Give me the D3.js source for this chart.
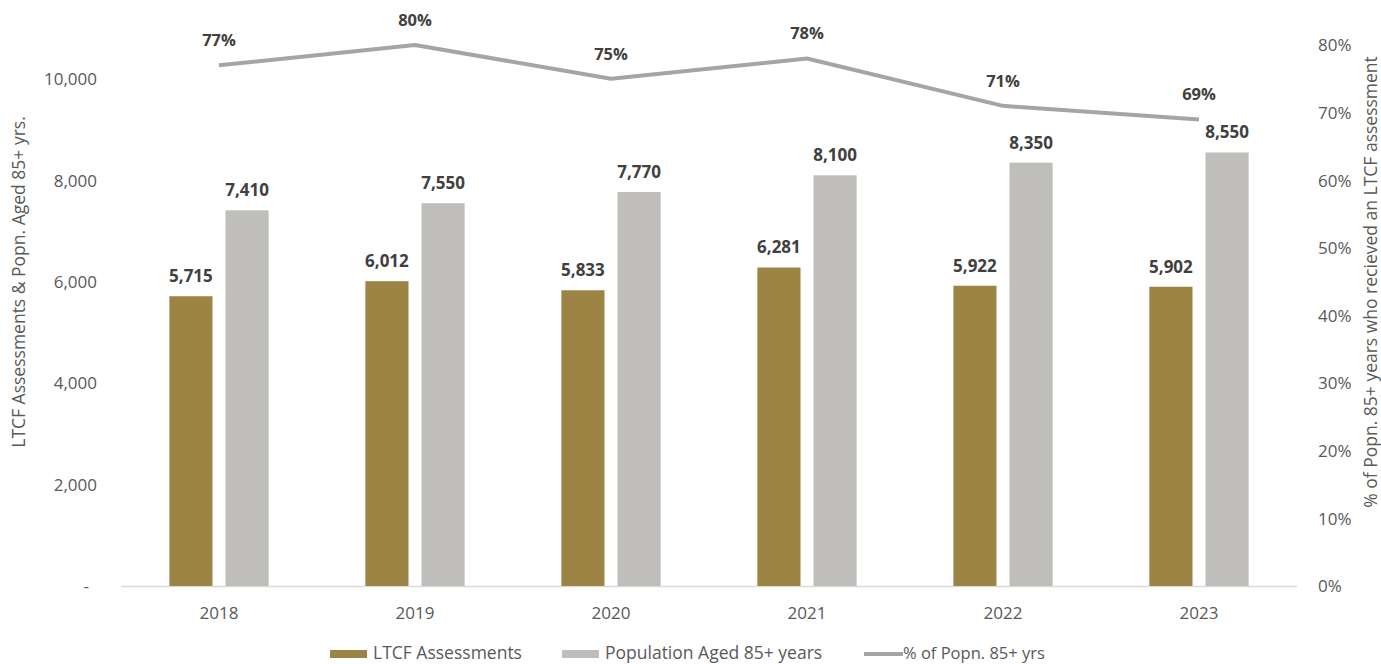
<!DOCTYPE html>
<html>
<head>
<meta charset="utf-8">
<script src="https://cdn.jsdelivr.net/npm/d3@7"></script>
<style>
  html, body { margin: 0; padding: 0; background: #fff; }
  svg { display: block; }
  text { font-family: "Open Sans", "Noto Sans", sans-serif; }
</style>
</head>
<body>
<svg id="chart" width="1381" height="664"></svg>
<script>
// Yearly figures
const years = ["2018", "2019", "2020", "2021", "2022", "2023"];
const assessments = [5715, 6012, 5833, 6281, 5922, 5902];
const population85 = [7410, 7550, 7770, 8100, 8350, 8550];
const pctAssessed = [77, 80, 75, 78, 71, 69];

const leftTicks = [0, 2000, 4000, 6000, 8000, 10000];
const rightTicks = [0, 10, 20, 30, 40, 50, 60, 70, 80];

const seriesNames = ["LTCF Assessments", "Population Aged 85+ years", "% of Popn. 85+ yrs"];
const leftTitle = "LTCF Assessments & Popn. Aged 85+ yrs.";
const rightTitle = "% of Popn. 85+ years who recieved an LTCF assessment";

const colBrown = "#9c8445";
const colGray = "#bfbeba";
const colLine = "#a5a5a5";
const colTick = "#595959";
const colLabel = "#404040";

const svg = d3.select("#chart");
const plot = { left: 121, right: 1297, top: 45, bottom: 586 };

const x = d3.scaleBand().domain(years).range([plot.left, plot.right]).padding(0);
const yL = d3.scaleLinear().domain([0, 10670]).range([plot.bottom, plot.top]);
const yR = d3.scaleLinear().domain([0, 80]).range([plot.bottom, plot.top]);

const bw = x.bandwidth() * 0.22;
const gap = 13;
const fmt = d3.format(",");

// baseline
svg.append("line")
  .attr("x1", plot.left).attr("x2", plot.right)
  .attr("y1", plot.bottom + 0.5).attr("y2", plot.bottom + 0.5)
  .attr("stroke", "#d9d9d9").attr("stroke-width", 1.5);

// left axis
const leftAxis = d3.axisLeft(yL).tickValues(leftTicks).tickSize(0).tickPadding(0)
  .tickFormat(d => d === 0 ? "-" : fmt(d));
const gL = svg.append("g").attr("transform", `translate(97,0)`).call(leftAxis);
gL.select(".domain").remove();
gL.selectAll("text").attr("fill", colTick).style("font-size", "17px")
  .attr("dy", "0.34em")
  .attr("dx", d => d === 0 ? -8 : 0);

// right axis
const rightAxis = d3.axisRight(yR).tickValues(rightTicks).tickSize(0).tickPadding(0)
  .tickFormat(d => d + "%");
const gR = svg.append("g").attr("transform", `translate(1318,0)`).call(rightAxis);
gR.select(".domain").remove();
gR.selectAll("text").attr("fill", colTick).style("font-size", "17px").attr("dy", "0.34em");

// x axis
const xAxis = d3.axisBottom(x).tickSize(0).tickPadding(0);
const gX = svg.append("g").attr("transform", `translate(0,${plot.bottom})`).call(xAxis);
gX.select(".domain").remove();
gX.selectAll("text").attr("fill", colTick).style("font-size", "17px").attr("y", 27).attr("dy", "0.34em");

// axis titles
svg.append("text")
  .attr("transform", `translate(25,282) rotate(-90)`)
  .attr("text-anchor", "middle").attr("fill", colTick).style("font-size", "17.5px")
  .text(leftTitle);
svg.append("text")
  .attr("transform", `translate(1377,282) rotate(-90)`)
  .attr("text-anchor", "middle").attr("fill", colTick).style("font-size", "17.5px")
  .text(rightTitle);

// bars
const g = svg.append("g");
years.forEach((yr, i) => {
  const cx = x(yr) + x.bandwidth() / 2;
  const bx1 = cx - gap / 2 - bw;
  const bx2 = cx + gap / 2;
  g.append("rect").attr("x", bx1).attr("width", bw)
    .attr("y", yL(assessments[i])).attr("height", yL(0) - yL(assessments[i]))
    .attr("fill", colBrown);
  g.append("rect").attr("x", bx2).attr("width", bw)
    .attr("y", yL(population85[i])).attr("height", yL(0) - yL(population85[i]))
    .attr("fill", colGray);
  g.append("text").attr("x", bx1 + bw / 2).attr("y", yL(assessments[i]) - 20)
    .attr("dy", "0.35em").attr("text-anchor", "middle")
    .attr("fill", colLabel).style("font-size", "17px").style("font-weight", "bold")
    .text(fmt(assessments[i]));
  g.append("text").attr("x", bx2 + bw / 2).attr("y", yL(population85[i]) - 20)
    .attr("dy", "0.35em").attr("text-anchor", "middle")
    .attr("fill", colLabel).style("font-size", "17px").style("font-weight", "bold")
    .text(fmt(population85[i]));
});

// percentage line
const line = d3.line()
  .x((d, i) => x(years[i]) + x.bandwidth() / 2)
  .y(d => yR(d));
svg.append("path").datum(pctAssessed)
  .attr("d", line).attr("fill", "none")
  .attr("stroke", colLine).attr("stroke-width", 4).attr("stroke-linejoin", "round");

svg.append("g").selectAll("text").data(pctAssessed).join("text")
  .attr("x", (d, i) => x(years[i]) + x.bandwidth() / 2)
  .attr("y", d => yR(d) - 25)
  .attr("dy", "0.35em").attr("text-anchor", "middle")
  .attr("fill", colLabel).style("font-size", "16.5px").style("font-weight", "bold")
  .text(d => d + "%");

// legend
const lg = svg.append("g").attr("transform", "translate(0,653)");
const legendItems = [
  { x: 330, type: "rect", color: colBrown, label: seriesNames[0] },
  { x: 562, type: "rect", color: colGray, label: seriesNames[1] },
  { x: 864, type: "line", color: colLine, label: seriesNames[2] }
];
legendItems.forEach(it => {
  if (it.type === "rect") {
    lg.append("rect").attr("x", it.x).attr("y", -3).attr("width", 37).attr("height", 8).attr("fill", it.color);
  } else {
    lg.append("line").attr("x1", it.x).attr("x2", it.x + 39).attr("y1", 1).attr("y2", 1)
      .attr("stroke", it.color).attr("stroke-width", 4);
  }
  lg.append("text").attr("x", it.x + (it.type === "rect" ? 43 : 39)).attr("y", 0).attr("dy", "0.35em")
    .attr("fill", colTick)
    .style("font-size", it.type === "rect" ? "17.5px" : "16.5px")
    .text(it.label);
});
</script>
</body>
</html>
